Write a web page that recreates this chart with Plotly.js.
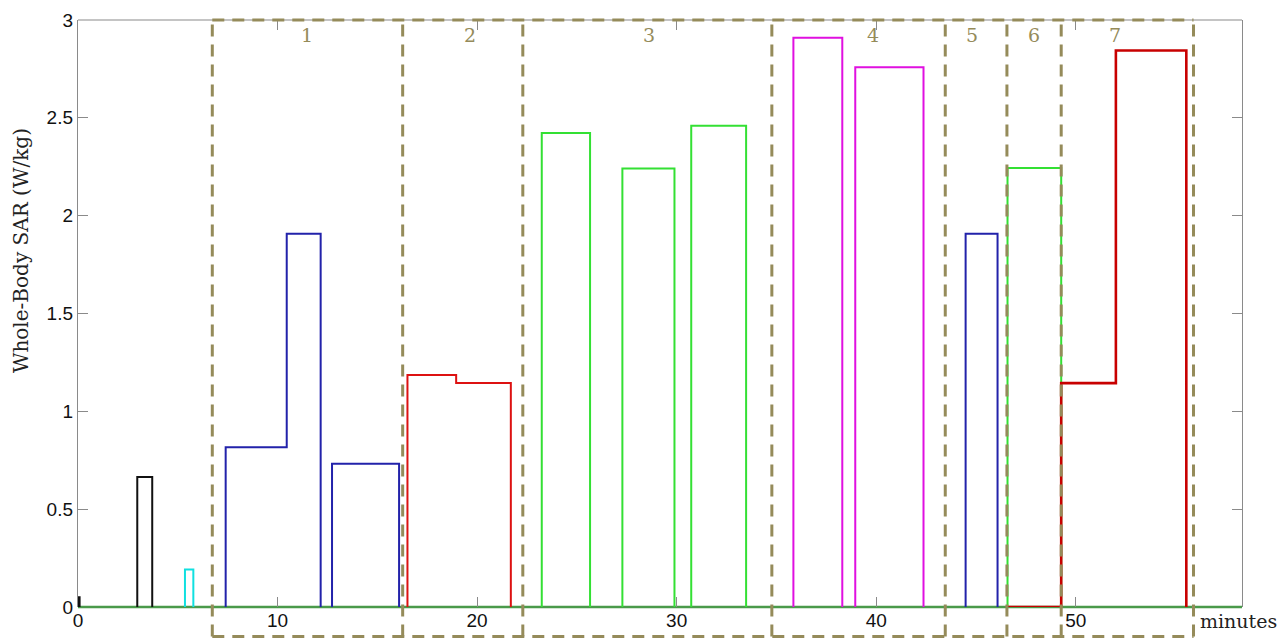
<!DOCTYPE html>
<html><head><meta charset="utf-8">
<script src="https://cdn.plot.ly/plotly-3.0.1.min.js"></script>
<style>html,body{margin:0;padding:0;background:#fff;}#chart{width:1285px;height:638px;}</style>
</head><body><div id="chart"></div>
<script>
// ---- data (minutes / W/kg) ----
const xMax = 58.33;
const blackEdges  = [[0, 0.08], [2.97, 3.72]];
const blackLevels = [[0.05], [0.665]];
const cyanEdges   = [[5.36, 5.78]];
const cyanLevels  = [[0.192]];
const blueEdges   = [[7.40, 10.46, 12.16], [12.73, 16.09], [44.48, 46.08]];
const blueLevels  = [[0.817, 1.907], [0.732], [1.907]];
const redEdges    = [[16.51, 18.95, 21.69]];
const redLevels   = [[1.186, 1.145]];
const greenEdges  = [[23.24, 25.66], [27.28, 29.89], [30.73, 33.48], [46.58, 49.27]];
const greenLevels = [[2.423], [2.241], [2.46], [2.244]];
const magentaEdges  = [[35.85, 38.30], [38.95, 42.37]];
const magentaLevels = [[2.909], [2.758]];
const darkRedEdges  = [[46.58, 49.27, 52.01, 55.54]];
const darkRedLevels = [[0, 1.144, 2.844]];
const regionBounds = [6.73, 16.27, 22.29, 34.77, 43.46, 46.55, 49.27, 55.90];
const regionLabels = ['1', '2', '3', '4', '5', '6', '7'];
const regionLabelX = [11.49, 19.65, 28.62, 39.84, 44.80, 47.92, 51.98];
const xTickVals = [0, 10, 20, 30, 40, 50];
const xTickText = ['0', '10', '20', '30', '40', '50'];
const yTickVals = [0, 0.5, 1, 1.5, 2, 2.5, 3];
const yTickText = ['0', '0.5', '1', '1.5', '2', '2.5', '3'];

function stepSeries(edgesList, levelsList) {
  const x = [], y = [];
  edgesList.forEach((edges, k) => {
    const lv = levelsList[k];
    if (k > 0) { x.push(null); y.push(null); }
    x.push(edges[0]); y.push(0);
    for (let i = 0; i < lv.length; i++) { x.push(edges[i]); y.push(lv[i]); }
    x.push(edges[edges.length - 1]); y.push(0);
  });
  return {x, y};
}
function mk(edges, levels, color, width) {
  const s = stepSeries(edges, levels);
  return {x: s.x, y: s.y, type: 'scatter', mode: 'lines', connectgaps: false,
          line: {shape: 'hv', color: color, width: width || 2}, hoverinfo: 'skip'};
}
const traces = [
  mk(blackEdges, blackLevels, '#111111'),
  mk(cyanEdges, cyanLevels, '#10e0e0'),
  mk(blueEdges, blueLevels, '#2222aa'),
  mk(redEdges, redLevels, '#dd1111'),
  mk(greenEdges, greenLevels, '#33e033'),
  mk(magentaEdges, magentaLevels, '#e010e0'),
  mk(darkRedEdges, darkRedLevels, '#c80000', 2.6)
];

const olive = '#958b5a';
const dashSpec = '12px,8px';
const yBottomBox = -0.0503;
const shapes = [];
shapes.push({type: 'line', xref: 'x', yref: 'paper', x0: 0, x1: xMax, y0: 0, y1: 0,
             line: {color: '#4a9a4a', width: 2.5}, layer: 'below'});
shapes.push({type: 'line', xref: 'paper', yref: 'paper', x0: 0, x1: 1, y0: 1, y1: 1,
             line: {color: '#8a8a8a', width: 1.2}});
regionBounds.forEach(b => shapes.push({type: 'line', xref: 'x', yref: 'paper', x0: b, x1: b,
  y0: yBottomBox, y1: 1, line: {color: olive, width: 3, dash: dashSpec}}));
[1, yBottomBox].forEach(yy => shapes.push({type: 'line', xref: 'x', yref: 'paper',
  x0: regionBounds[0], x1: regionBounds[regionBounds.length - 1], y0: yy, y1: yy,
  line: {color: olive, width: 3, dash: dashSpec}}));

const serif = 'DejaVu Serif, Liberation Serif, serif';
const annotations = regionLabels.map((t, i) => ({text: t, x: regionLabelX[i], xref: 'x',
  y: 0.997, yref: 'paper', showarrow: false, font: {family: serif, size: 19, color: olive}}));
annotations.push({text: 'minutes', x: 0.962, xref: 'paper', xanchor: 'left', y: -0.046, yref: 'paper',
  showarrow: false, font: {family: serif, size: 19, color: '#222'}});
annotations.push({text: 'Whole-Body SAR (W/kg)', x: -0.0615, xref: 'paper', y: 0.607, yref: 'paper',
  textangle: -90, showarrow: false, font: {family: serif, size: 20, color: '#222'}});

const layout = {
  width: 1285, height: 638,
  margin: {l: 78, r: 43, t: 20, b: 31, pad: 0},
  paper_bgcolor: '#fff', plot_bgcolor: '#fff',
  showlegend: false,
  xaxis: {range: [0, xMax], tickvals: xTickVals, ticktext: xTickText, ticks: 'inside', ticklen: 10,
          tickcolor: '#8a8a8a', tickwidth: 1.2, showline: false, mirror: 'ticks', showgrid: false, zeroline: false,
          tickfont: {family: 'Liberation Sans, Arial, sans-serif', size: 19, color: '#111'}},
  yaxis: {range: [0, 3], tickvals: yTickVals, ticktext: yTickText, ticks: 'inside', ticklen: 10,
          tickcolor: '#8a8a8a', tickwidth: 1.2, showline: true, linecolor: '#8a8a8a', linewidth: 1.2,
          mirror: 'ticks', showgrid: false, zeroline: false,
          tickfont: {family: 'Liberation Sans, Arial, sans-serif', size: 19, color: '#111'}},
  shapes: shapes,
  annotations: annotations
};
Plotly.newPlot('chart', traces, layout, {staticPlot: true, displayModeBar: false});
</script></body></html>
